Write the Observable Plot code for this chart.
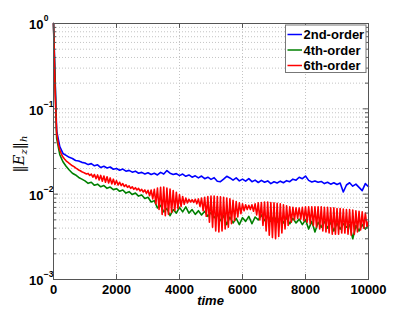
<!DOCTYPE html>
<html><head><meta charset="utf-8">
<script src="https://cdn.jsdelivr.net/npm/d3@7"></script>
<script src="https://cdn.jsdelivr.net/npm/@observablehq/plot@0.6"></script>
<style>html,body{margin:0;padding:0;background:#fff;}</style>
</head><body><div id="chart"></div>
<script>
const seriesNames = ["2nd-order", "4th-order", "6th-order"];
const seriesColors = ["#0000ff", "#008000", "#ff0000"];
const xLabel = "time";
const xTicks = [0, 2000, 4000, 6000, 8000, 10000];
const yDecades = [1e-3, 1e-2, 1e-1, 1];
const yExponents = ["\u22123", "\u22122", "\u22121", "0"];

const blueStep = 100;
const blueValues = [1,0.055,0.036,0.030,0.0285,0.027,0.0262,0.0248,0.0245,0.0236,
0.0232,0.0222,0.0228,0.0215,0.0221,0.0205,0.0212,0.0203,0.0208,0.0196,
0.0200,0.0191,0.0197,0.0186,0.0190,0.0181,0.0186,0.0176,0.0180,0.0172,
0.0178,0.0170,0.0176,0.0168,0.0180,0.0172,0.0189,0.0176,0.0170,0.0174,
0.0165,0.0172,0.0162,0.0168,0.0158,0.0164,0.0155,0.0163,0.0152,0.0158,
0.0149,0.0156,0.0142,0.0140,0.0150,0.0162,0.0155,0.0146,0.0155,0.0143,
0.0150,0.0142,0.0152,0.0140,0.0146,0.0137,0.0145,0.0138,0.0143,0.0133,
0.0140,0.0135,0.0142,0.0136,0.0144,0.0140,0.0150,0.0146,0.0158,0.0152,
0.0163,0.0145,0.0139,0.0143,0.0138,0.0141,0.0133,0.0138,0.0131,0.0136,
0.0130,0.0135,0.0106,0.0128,0.0136,0.0124,0.0131,0.0120,0.0110,0.0133,
0.0122];

const greenStep = 100;
const greenValues = [1,0.045,0.029,0.024,0.0212,0.0192,0.0176,0.0168,0.0157,0.0150,
0.0143,0.0134,0.0138,0.0127,0.0131,0.0122,0.0126,0.0117,0.0121,0.0113,
0.0116,0.0108,0.0112,0.0103,0.0107,0.0099,0.0103,0.0095,0.0098,0.0089,
0.0092,0.0081,0.0084,0.0069,0.0074,0.0062,0.0068,0.0056,0.0066,0.0060,
0.0070,0.0062,0.0071,0.0060,0.0066,0.0058,0.0064,0.0057,0.0063,0.0055,
0.0061,0.0053,0.0058,0.0049,0.0056,0.0044,0.0054,0.0046,0.0052,0.0044,
0.0053,0.0048,0.0055,0.0045,0.0054,0.0050,0.0057,0.0049,0.0056,0.0048,
0.0055,0.0047,0.0054,0.0046,0.0053,0.0045,0.0052,0.0046,0.0051,0.0044,
0.0050,0.0039,0.0048,0.0036,0.0047,0.0041,0.0048,0.0040,0.0047,0.0037,
0.0046,0.0039,0.0045,0.0041,0.0044,0.0030,0.0043,0.0037,0.0044,0.0039,
0.0043];

const redStep = 50;
const redValues = [1,0.16,0.052,0.039,0.033,0.0295,0.0272,0.0258,0.0246,0.0238,
0.0229,0.0222,0.0215,0.0210,0.0203,0.0198,0.0192,0.0188,0.0183,0.0180,
0.0176,0.0172,0.0175,0.0166,0.0172,0.0158,0.0170,0.0152,0.0168,0.0147,
0.0166,0.0142,0.0163,0.0138,0.0160,0.0135,0.0155,0.0132,0.0150,0.0130,
0.0144,0.0128,0.0138,0.0126,0.0133,0.0123,0.0129,0.0120,0.0125,0.0117,
0.0122,0.0114,0.0119,0.0112,0.0117,0.0109,0.0114,0.0106,0.0112,0.0102,
0.0111,0.0096,0.0112,0.0088,0.0114,0.0077,0.0118,0.0066,0.0120,0.0058,
0.0121,0.0056,0.0118,0.0058,0.0115,0.0061,0.0110,0.0064,0.0105,0.0068,
0.0099,0.0072,0.0094,0.0076,0.0090,0.0079,0.0087,0.0081,0.0086,0.0080,
0.0087,0.0077,0.0088,0.0072,0.0090,0.0064,0.0092,0.0055,0.0094,0.0047,
0.0095,0.0041,0.0095,0.0037,0.0094,0.0036,0.0093,0.0037,0.0092,0.0039,
0.0090,0.0041,0.0088,0.0045,0.0085,0.0049,0.0082,0.0054,0.0079,0.0059,
0.0077,0.0064,0.0075,0.0066,0.0074,0.0066,0.0075,0.0063,0.0077,0.0057,
0.0079,0.0050,0.0080,0.0043,0.0081,0.0037,0.0081,0.0033,0.0080,0.0031,
0.0079,0.0030,0.0078,0.0032,0.0077,0.0035,0.0075,0.0039,0.0073,0.0043,
0.0071,0.0047,0.0070,0.0050,0.0069,0.0052,0.0069,0.0051,0.0070,0.0049,
0.0071,0.0047,0.0071,0.0045,0.0071,0.0043,0.0071,0.0041,0.0071,0.0039,
0.0071,0.0037,0.0070,0.0036,0.0070,0.0035,0.0069,0.0034,0.0069,0.0034,
0.0068,0.0034,0.0068,0.0035,0.0067,0.0035,0.0066,0.0034,0.0066,0.0033,
0.0065,0.0034,0.0064,0.0036,0.0063,0.0038,0.0062,0.0040,0.0060,0.0042,
0.0048];

const W = 407, H = 315, mL = 53, mR = 39, mT = 23, mB = 36;
const innerW = W - mL - mR, innerH = H - mT - mB;

const toRows = (vals, step, name) => vals.map((v, i) => ({t: i * step, v, s: name}));
const series = [
  toRows(blueValues, blueStep, seriesNames[0]),
  toRows(greenValues, greenStep, seriesNames[1]),
  toRows(redValues, redStep, seriesNames[2])
];

const yMinor = [];
for (const d of yDecades.slice(0, -1)) for (let k = 2; k <= 9; k++) yMinor.push(d * k);
const yGrid = yDecades.slice(1, -1).concat(yMinor);
const xGrid = xTicks.slice(1, -1);

const axisColor = "#555";
const gridStyle = {stroke: "#c4c4c4", strokeOpacity: 1, strokeDasharray: "1,2", strokeWidth: 1};
const font = "'Liberation Sans', Arial, sans-serif";

const plot = Plot.plot({
  width: W, height: H,
  marginLeft: mL, marginRight: mR, marginTop: mT, marginBottom: mB,
  style: {fontFamily: font, fontSize: "13px", fontWeight: "bold", background: "#fff", overflow: "visible"},
  x: {domain: [0, 10000], axis: null},
  y: {type: "log", domain: [1e-3, 1], axis: null},
  marks: [
    Plot.gridX(xGrid, gridStyle),
    Plot.gridY(yGrid, gridStyle),
    ...series.map((rows, i) => Plot.line(rows, {x: "t", y: "v", stroke: seriesColors[i], strokeWidth: 1.6})),
    Plot.frame({stroke: axisColor, strokeWidth: 1}),
    Plot.tickY(yDecades, {y: d => d, insetRight: innerW - 5, stroke: axisColor}),
    Plot.tickY(yDecades, {y: d => d, insetLeft: innerW - 5, stroke: axisColor}),
    Plot.tickY(yMinor, {y: d => d, insetRight: innerW - 3, stroke: axisColor}),
    Plot.tickY(yMinor, {y: d => d, insetLeft: innerW - 3, stroke: axisColor}),
    Plot.tickX(xTicks, {x: d => d, insetTop: innerH - 5, stroke: axisColor}),
    Plot.tickX(xTicks, {x: d => d, insetBottom: innerH - 5, stroke: axisColor}),
    Plot.axisX({ticks: xTicks, tickSize: 0, tickPadding: 5, tickFormat: d => String(d), label: null, fontSize: 13, fontWeight: "bold", fill: "#000"}),
    Plot.text(yDecades, {y: d => d, frameAnchor: "left", text: () => "10", textAnchor: "end", dx: -10, dy: 1.5, fontSize: 13, fontWeight: "bold", fill: "#000"}),
    Plot.text(yDecades, {y: d => d, frameAnchor: "left", text: (d, i) => yExponents[i], textAnchor: "start", dx: -9.7, dy: -5, fontSize: 8.5, fontWeight: "bold", fill: "#000"})
  ]
});

const svg = d3.select(plot);

// x label
svg.append("text")
  .attr("x", mL + innerW / 2).attr("y", 305)
  .attr("text-anchor", "middle")
  .style("font-family", font)
  .style("font-size", "13px").style("font-weight", "bold").style("font-style", "italic")
  .text(xLabel);

// y label  ||E_z||_h
const yl = svg.append("text")
  .attr("transform", `translate(24,${mT + innerH / 2 + 3}) rotate(-90)`)
  .attr("text-anchor", "middle")
  .style("font-family", "'DejaVu Serif', 'Liberation Serif', serif")
  .style("font-size", "14.5px").style("font-weight", "normal");
yl.append("tspan").text("\u2016");
yl.append("tspan").style("font-style", "italic").text("E");
yl.append("tspan").attr("dy", 3).style("font-size", "10px").style("font-style", "italic").text("z");
yl.append("tspan").attr("dy", -3).text("\u2016");
yl.append("tspan").attr("dy", 3).style("font-size", "10px").style("font-style", "italic").text("h");

// legend
const lg = svg.append("g");
const lx0 = 285.5, ly0 = 25, lx1 = 366, ly1 = 72.5;
lg.append("rect").attr("x", lx0).attr("y", ly0).attr("width", lx1 - lx0).attr("height", ly1 - ly0)
  .attr("fill", "#fff").attr("stroke", "#777").attr("stroke-width", 1);
const rowY = [34.5, 50, 65.5];
seriesNames.forEach((name, i) => {
  lg.append("line").attr("x1", 287.5).attr("x2", 302).attr("y1", rowY[i]).attr("y2", rowY[i])
    .attr("stroke", seriesColors[i]).attr("stroke-width", 1.5);
  lg.append("text").attr("x", 303.5).attr("y", rowY[i] + 4.6)
    .attr("text-anchor", "start")
    .style("font-family", font)
    .style("font-size", "13px").style("font-weight", "bold").attr("fill", "#000")
    .text(name);
});

document.getElementById("chart").appendChild(plot);
</script>
</body></html>
